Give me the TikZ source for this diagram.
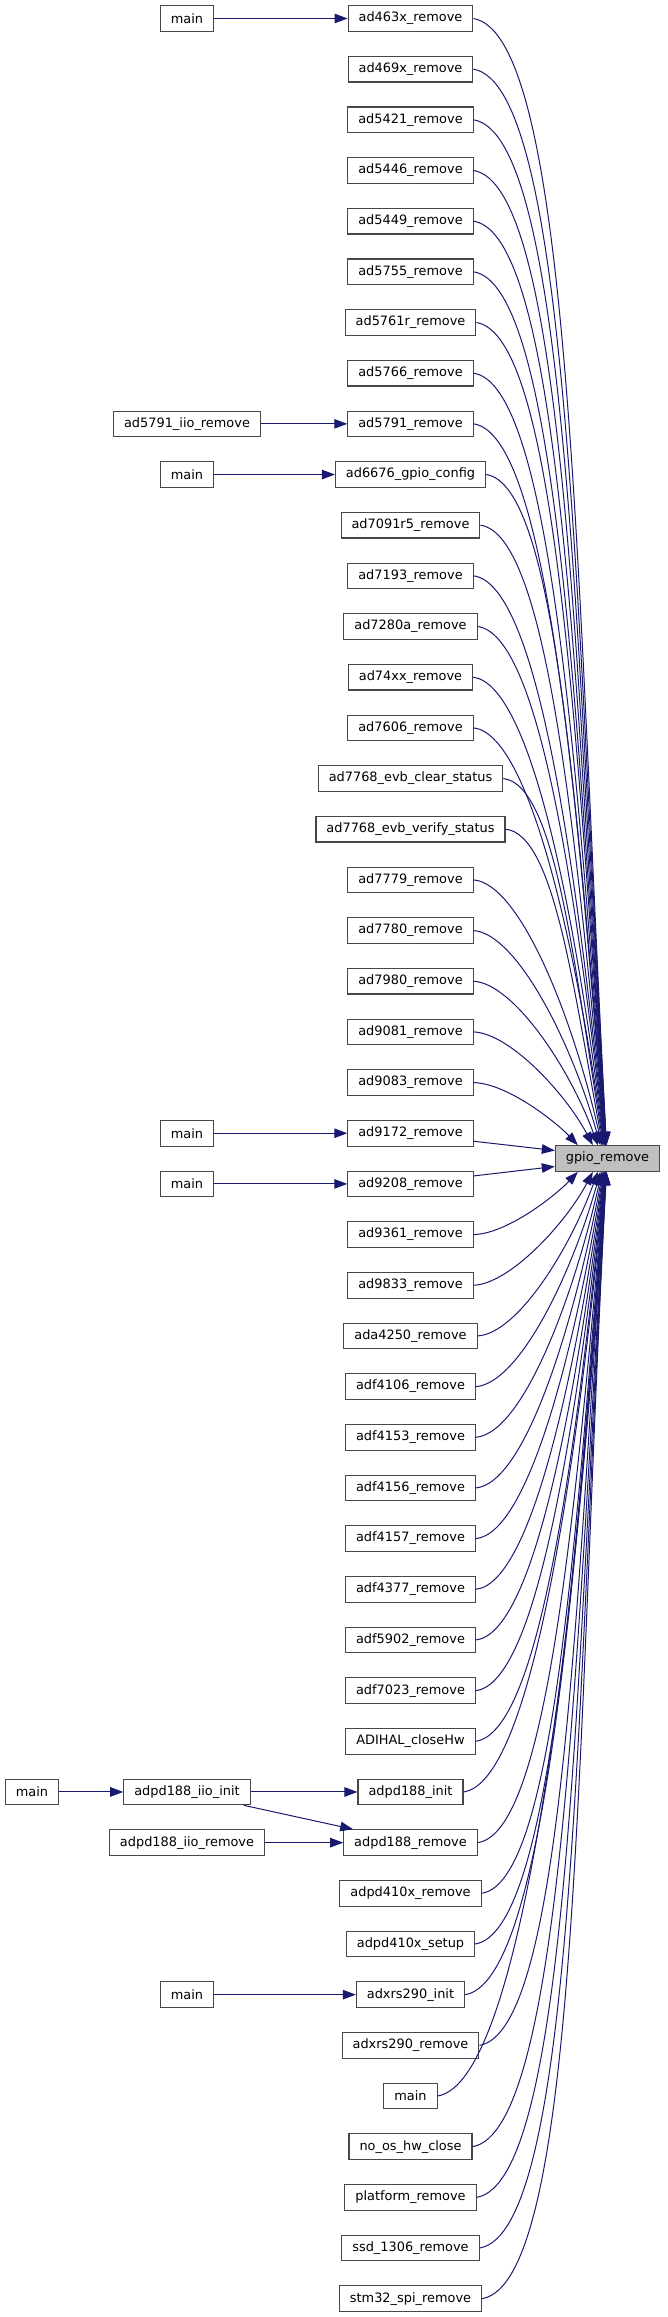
\documentclass[tikz,border=0pt]{standalone}
\usepackage{fontspec}
\setmainfont{DejaVu Sans}
\usetikzlibrary{arrows.meta,calc,positioning}

\definecolor{edgeblue}{HTML}{191970}
\definecolor{boxline}{HTML}{474747}
\definecolor{rootfill}{HTML}{BFBFBF}

\begin{document}
\begin{tikzpicture}[x=1pt,y=-1pt,>={Triangle[length=13pt,width=9.5pt]},
  fn/.style={draw=boxline,line width=1.1pt,fill=white,minimum height=25.6pt,
    inner xsep=10.5pt,inner ysep=0pt,font=\fontsize{12.9}{14}\selectfont},
  root/.style={fn,fill=rootfill},
  call/.style={->,draw=edgeblue,line width=1pt}]
  \useasboundingbox (0,0) rectangle (667,2317);

  % functions calling gpio_remove, one per row
  \foreach \name [count=\i from 0] in {ad463x\_remove,ad469x\_remove,ad5421\_remove,
      ad5446\_remove,ad5449\_remove,ad5755\_remove,ad5761r\_remove,ad5766\_remove,
      ad5791\_remove,ad6676\_gpio\_config,ad7091r5\_remove,ad7193\_remove,
      ad7280a\_remove,ad74xx\_remove,ad7606\_remove,ad7768\_evb\_clear\_status,
      ad7768\_evb\_verify\_status,ad7779\_remove,ad7780\_remove,ad7980\_remove,
      ad9081\_remove,ad9083\_remove,ad9172\_remove,ad9208\_remove,ad9361\_remove,
      ad9833\_remove,ada4250\_remove,adf4106\_remove,adf4153\_remove,adf4156\_remove,
      adf4157\_remove,adf4377\_remove,adf5902\_remove,adf7023\_remove,ADIHAL\_closeHw,
      adpd188\_init,adpd188\_remove,adpd410x\_remove,adpd410x\_setup,adxrs290\_init,
      adxrs290\_remove,main,no\_os\_hw\_close,platform\_remove,ssd\_1306\_remove,
      stm32\_spi\_remove}
    \node[fn] (c\i) at (410.5,{18.5+50.67*\i}) {\name};

  \node[root] (gpio) at (607.5,1158.5) {gpio\_remove};

  % callers further up
  \node[fn] (m0) at (187,0 |- c0) {main};
  \node[fn] (iio5791) at (187,0 |- c8) {ad5791\_iio\_remove};
  \node[fn] (m9) at (187,0 |- c9) {main};
  \node[fn] (m22) at (187,0 |- c22) {main};
  \node[fn] (m23) at (187,0 |- c23) {main};
  \node[fn] (iio188) at (187,0 |- c35) {adpd188\_iio\_init};
  \node[fn] (rm188) at (187,0 |- c36) {adpd188\_iio\_remove};
  \node[fn] (m39) at (187,0 |- c39) {main};
  \node[fn] (m35) at (32,0 |- c35) {main};

  \draw[call] (m0) -- (c0);
  \draw[call] (iio5791) -- (c8);
  \draw[call] (m9) -- (c9);
  \draw[call] (m22) -- (c22);
  \draw[call] (m23) -- (c23);
  \draw[call] (m35) -- (iio188);
  \draw[call] (iio188) -- (c35);
  \draw[call] ([xshift=-7pt]iio188.south east) -- ([xshift=10pt]c36.north west);
  \draw[call] (rm188) -- (c36);
  \draw[call] (m39) -- (c39);

  % into gpio_remove
  \draw[call] ([yshift=-8pt]c22.east) -- ([yshift=8pt]gpio.west);
  \draw[call] ([yshift=8pt]c23.east) -- ([yshift=-8pt]gpio.west);
  \foreach \k in {0,...,21}{
    \pgfmathsetmacro\dy{1146-18.5-50.67*\k}
    \pgfmathsetmacro\ox{53-30/(22-\k)}
    \pgfmathsetmacro\ca{min(98,30+0.06*\dy)}
    \pgfmathsetmacro\ang{atan2(60,\dy)}
    \pgfmathsetmacro\ux{-0.5*\dy*sin(\ang)}
    \pgfmathsetmacro\uy{0.5*\dy*cos(\ang)}
    \draw[call] (c\k.east) .. controls +(\ca,{0.015*\dy}) and +(\ux,-\uy)
      .. ([xshift=\ox pt]gpio.north west);
  }
  \foreach \k in {24,...,45}{
    \pgfmathsetmacro\dy{18.5+50.67*\k-1171}
    \pgfmathsetmacro\ox{53-30/(\k-23)}
    \pgfmathsetmacro\ca{min(98,30+0.06*\dy)}
    \pgfmathsetmacro\ang{atan2(60,\dy)}
    \pgfmathsetmacro\ux{-0.5*\dy*sin(\ang)}
    \pgfmathsetmacro\uy{0.5*\dy*cos(\ang)}
    \draw[call] (c\k.east) .. controls +(\ca,{-0.015*\dy}) and +(\ux,\uy)
      .. ([xshift=\ox pt]gpio.south west);
  }
\end{tikzpicture}
\end{document}
